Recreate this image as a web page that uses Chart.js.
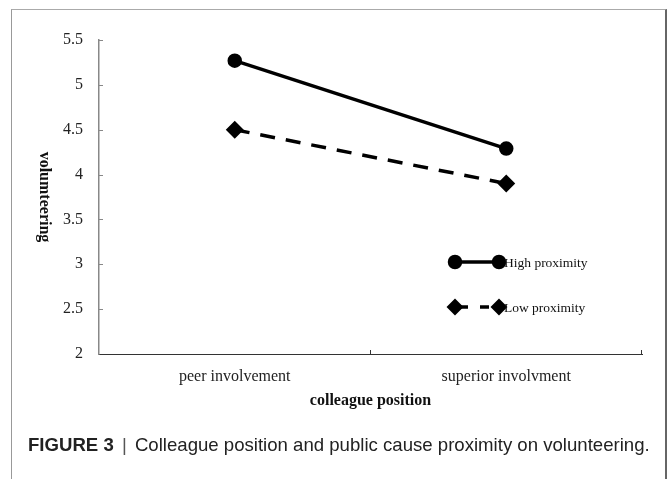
<!DOCTYPE html>
<html>
<head>
<meta charset="utf-8">
<script src="https://cdn.jsdelivr.net/npm/chart.js@4.4.1/dist/chart.umd.min.js"></script>
<style>
  body { margin: 0; background: #fff; overflow: hidden; }
  #wrap { position: relative; width: 667px; height: 479px; }
  #frame {
    position: absolute; left: 11px; top: 9px; width: 653px; height: 520px;
    border-top: 1px solid #aaa; border-left: 1px solid #999; border-right: 2px solid #666;
  }
  #chart { position: absolute; left: 0; top: 0; }
  #caption {
    position: absolute; left: 28px; top: 434px; white-space: nowrap;
    font-family: "Liberation Sans", Arial, sans-serif; font-size: 18.6px; color: #222;
  }
  #caption b { font-weight: bold; }
  #caption .sep { color: #555; margin: 0 3px; }
</style>
</head>
<body>
<div id="wrap">
  <div id="frame"></div>
  <canvas id="chart" width="667" height="479"></canvas>
  <div id="caption"><b>FIGURE 3</b><span class="sep"> | </span>Colleague position and public cause proximity on volunteering.</div>
</div>
<script>
// data
const categories = ['peer involvement', 'superior involvment'];
const highProximity = [5.27, 4.29];
const lowProximity = [4.5, 3.9];
const yTickValues = [2, 2.5, 3, 3.5, 4, 4.5, 5, 5.5];
const seriesNames = ['High proximity', 'Low proximity'];

const serif = "'Liberation Serif', 'Times New Roman', serif";

// inward tick marks, rotated y title and the two-marker legend
const extras = {
  id: 'extras',
  afterDraw(chart) {
    const ctx = chart.ctx;
    const area = chart.chartArea;
    const x = chart.scales.x, y = chart.scales.y;
    ctx.save();
    // y ticks point into the plot
    ctx.strokeStyle = '#888';
    ctx.lineWidth = 1;
    yTickValues.forEach(v => {
      if (v === yTickValues[0]) return;
      const py = Math.round(y.getPixelForValue(v)) + 0.5;
      ctx.beginPath();
      ctx.moveTo(area.left, py);
      ctx.lineTo(area.left + 4, py);
      ctx.stroke();
    });
    // x ticks at category boundaries, pointing up
    ctx.strokeStyle = '#333';
    categories.forEach((c, i) => {
      const px = Math.round(x.getPixelForValue(i + 0.5)) - 0.5;
      ctx.beginPath();
      ctx.moveTo(px, area.bottom);
      ctx.lineTo(px, area.bottom - 4);
      ctx.stroke();
    });
    // y title, reading top to bottom
    ctx.fillStyle = '#111';
    ctx.font = 'bold 16px ' + serif;
    ctx.textAlign = 'center';
    ctx.textBaseline = 'middle';
    ctx.translate(44, (area.top + area.bottom) / 2);
    ctx.rotate(Math.PI / 2);
    ctx.fillText('volumteering', 0, 0);
    ctx.restore();

    // legend
    ctx.save();
    const x0 = area.left + 356, x1 = area.left + 400;
    const rows = [area.top + 222, area.top + 267];
    const legendRadius = [5.5, 6];
    chart.data.datasets.forEach((ds, i) => {
      const ry = rows[i];
      ctx.strokeStyle = ds.borderColor;
      ctx.lineWidth = ds.borderWidth;
      ctx.setLineDash(i === 1 ? [9, 12] : []);
      ctx.lineDashOffset = i === 1 ? -4 : 0;
      ctx.beginPath();
      ctx.moveTo(x0, ry);
      ctx.lineTo(x1, ry);
      ctx.stroke();
      ctx.setLineDash([]);
      [x0, x1].forEach(px => {
        Chart.helpers.drawPoint(ctx, {
          pointStyle: ds.pointStyle, radius: legendRadius[i], borderWidth: 1,
          rotation: 0
        }, px, ry);
        ctx.fillStyle = ds.pointBackgroundColor;
        ctx.fill();
      });
      ctx.fillStyle = '#111';
      ctx.font = '13.5px ' + serif;
      ctx.textAlign = 'left';
      ctx.textBaseline = 'middle';
      ctx.fillText(seriesNames[i], x1 + 5, ry + 1);
    });
    ctx.restore();
  }
};

new Chart(document.getElementById('chart').getContext('2d'), {
  type: 'line',
  data: {
    labels: categories,
    datasets: [{
      label: seriesNames[0],
      data: highProximity,
      borderColor: '#000',
      borderWidth: 3.5,
      pointStyle: 'circle',
      pointRadius: 5.5,
      pointBackgroundColor: '#000',
      pointBorderColor: '#000',
      fill: false,
      tension: 0
    }, {
      label: seriesNames[1],
      data: lowProximity,
      borderColor: '#000',
      borderWidth: 3.5,
      borderDash: [15, 11],
      pointStyle: 'rectRot',
      pointRadius: 6.5,
      pointBackgroundColor: '#000',
      pointBorderColor: '#000',
      fill: false,
      tension: 0
    }]
  },
  options: {
    responsive: false,
    devicePixelRatio: 1,
    animation: false,
    layout: { padding: { top: 40, right: 25, bottom: 65, left: 0 } },
    plugins: { legend: { display: false }, tooltip: { enabled: false } },
    scales: {
      x: {
        offset: true,
        grid: { display: false, drawTicks: false },
        border: { display: true, color: '#333', width: 1 },
        ticks: { color: '#222', padding: 13, font: { family: serif, size: 16 } },
        title: {
          display: true, text: 'colleague position', color: '#111',
          padding: { top: 0, bottom: 4 },
          font: { family: serif, size: 16, weight: 'bold' }
        },
        afterFit: s => { s.height = 60; }
      },
      y: {
        min: 2, max: 5.5,
        grid: { display: false, drawTicks: false },
        border: { display: true, color: '#888', width: 1.5 },
        afterBuildTicks: s => { s.ticks = yTickValues.map(v => ({ value: v })); },
        ticks: {
          color: '#222', padding: 16, font: { family: serif, size: 16 },
          callback: v => String(v)
        },
        afterFit: s => { s.width = 99; }
      }
    }
  },
  plugins: [extras]
});
</script>
</body>
</html>
